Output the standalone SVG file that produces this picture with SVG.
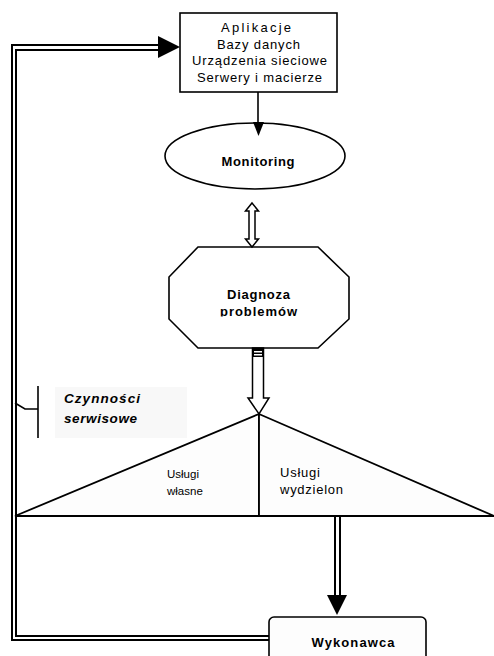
<svg xmlns="http://www.w3.org/2000/svg" width="494" height="656" viewBox="0 0 494 656">
<defs>
<style>
.ln{fill:none;stroke:#000;stroke-width:1.6}
.dbl{fill:none;stroke:#000;stroke-width:2}
.t{font-family:"Liberation Sans",Arial,sans-serif;font-size:13px;fill:#000}
.b{font-weight:bold}
.i{font-style:italic}
.c{text-anchor:middle}
</style>
<clipPath id="clipDiag"><rect x="160" y="240" width="200" height="76.5"/></clipPath>
</defs>
<rect width="494" height="656" fill="#fff"/>

<g id="box-top">
<rect x="180" y="13" width="157" height="79" fill="#fff" stroke="#000" stroke-width="1.6"/>
<text class="t c" x="256" y="32" textLength="70" lengthAdjust="spacing">Aplikacje</text>
<text class="t c" x="258.5" y="48.5" textLength="83" lengthAdjust="spacing">Bazy danych</text>
<text class="t c" x="259.5" y="65" textLength="135" lengthAdjust="spacing">Urządzenia sieciowe</text>
<text class="t c" x="259.5" y="81.5" textLength="125" lengthAdjust="spacing">Serwery i macierze</text>
</g>

<g id="monitoring">
<ellipse cx="255" cy="156" rx="90" ry="33" fill="#fff" stroke="#000" stroke-width="1.6"/>
<text class="t b c" x="258" y="166" textLength="73" lengthAdjust="spacing">Monitoring</text>
</g>

<g id="diagnoza">
<polygon points="198,247 318,247 349,277 349,319 318,348 198,348 169,319 169,277" fill="#fff" stroke="#000" stroke-width="1.6"/>
<g clip-path="url(#clipDiag)">
<text class="t b c" x="258.5" y="299" textLength="63" lengthAdjust="spacing">Diagnoza</text>
<text class="t b c" x="258.5" y="316" textLength="77" lengthAdjust="spacing">problemów</text>
</g>
</g>

<g id="annotation">
<rect x="55" y="387" width="132" height="51" fill="#f8f8f8"/>
<text class="t b i" x="64" y="403" style="font-size:13.5px" textLength="76" lengthAdjust="spacing">Czynności</text>
<text class="t b i" x="64" y="423" style="font-size:13.5px" textLength="73" lengthAdjust="spacing">serwisowe</text>
</g>

<g id="uslugi">
<polygon points="15,516 259,414 259,516" fill="#fdfdfd" stroke="#000" stroke-width="1.8"/>
<polygon points="259,414 494,516 259,516" fill="#fdfdfd" stroke="#000" stroke-width="1.8"/>
<text class="t" x="167" y="478" style="font-size:11.5px">Usługi</text>
<text class="t" x="167" y="495" style="font-size:11.5px">własne</text>
<text class="t" x="280" y="477" textLength="40" lengthAdjust="spacing">Usługi</text>
<text class="t" x="280" y="494" textLength="63" lengthAdjust="spacing">wydzielon</text>
</g>

<g id="wykonawca">
<rect x="269" y="617" width="157" height="50" rx="5" fill="#fdfdfd" stroke="#000" stroke-width="1.6"/>
<text class="t b c" x="353" y="647" textLength="83" lengthAdjust="spacing">Wykonawca</text>
</g>

<g id="connectors">
<polyline class="dbl" points="269,640 12,640 12,45 160,45"/>
<polyline class="dbl" points="269,636 16,636 16,50 160,50"/>
<polygon points="158,36 180,47 158,58" fill="#000"/>
<line class="ln" x1="258" y1="92" x2="258" y2="124"/>
<polygon points="253,122 264,122 258.5,136" fill="#000"/>
<polygon points="252,203 258.5,211 255,211 255,239 258.5,239 252,247 245.5,239 249,239 249,211 245.5,211" fill="#fff" stroke="#000" stroke-width="1.5"/>
<polygon points="252.5,348 263.5,348 263.5,398 269,398 259,414 248,398 252.5,398" fill="#fff" stroke="#000" stroke-width="1.5"/>
<rect x="252.5" y="348" width="11" height="9" fill="#000"/>
<rect x="254" y="351" width="8" height="1.5" fill="#fff"/>
<rect x="254" y="354" width="8" height="1.5" fill="#fff"/>
<line class="dbl" x1="335" y1="516" x2="335" y2="597"/>
<line class="dbl" x1="340" y1="516" x2="340" y2="597"/>
<polygon points="327,595 347,595 337,615" fill="#000"/>
<polyline class="ln" points="15,403 25,409 38,409"/>
<line class="ln" x1="38" y1="386" x2="38" y2="438"/>
</g>
</svg>
